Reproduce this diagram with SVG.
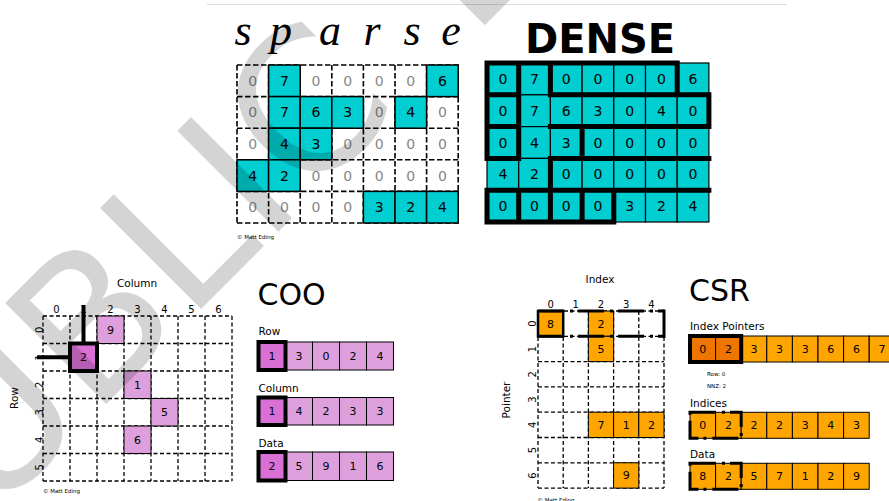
<svg xmlns="http://www.w3.org/2000/svg" width="889" height="501" viewBox="0 0 889 501">
<defs>
<style>
text{font-family:"DejaVu Sans","Noto Sans",sans-serif;fill:#000}
.n14{font-size:14px;text-anchor:middle}
.n11{font-size:11px;text-anchor:middle}
.n10{font-size:10px;text-anchor:middle}
.g{fill:#888}
.lbl{font-size:10.5px}
.copy{font-size:5.5px}
.title{font-size:30px}
.dash1{fill:none;stroke:#000;stroke-width:1.6;stroke-dasharray:5.5 2.5}
.dash2{fill:none;stroke:#000;stroke-width:1.3;stroke-dasharray:4 2.5}
.cy{fill:#00CED1;stroke:#000;stroke-width:1.5}
.cyd{fill:#00CED1;stroke:#000;stroke-width:1.2}
.pl{fill:#DDA0DD;stroke:#000;stroke-width:1}
.or{fill:#DA70D6;stroke:#000;stroke-width:4}
.og{fill:#FFA500;stroke:#000;stroke-width:1}
.thick{fill:none;stroke:#000;stroke-width:4}
.dd{fill:none;stroke:#000;stroke-width:3;stroke-dasharray:26 6 3 5}
</style>
</defs>
<rect width="889" height="501" fill="#fff"/>
<path d="M207 4.5H787" stroke="#ddd" stroke-width="1"/>

<g id="sparse">
<text x="243 281 330 372 412 451" y="45" style="font-family:'Liberation Serif',serif;font-style:italic;font-size:44px;text-anchor:middle">sparse</text>
<path class="dash1" d="M237 65H458.2M237 96.6H458.2M237 128.2H458.2M237 159.8H458.2M237 191.4H458.2M237 223H458.2M237 65V223M268.6 65V223M300.2 65V223M331.8 65V223M363.4 65V223M395 65V223M426.6 65V223M458.2 65V223"/>
<rect class="cy" x="268.6" y="65" width="31.6" height="31.6"/>
<rect class="cy" x="426.6" y="65" width="31.6" height="31.6"/>
<rect class="cy" x="268.6" y="96.6" width="31.6" height="31.6"/>
<rect class="cy" x="300.2" y="96.6" width="31.6" height="31.6"/>
<rect class="cy" x="331.8" y="96.6" width="31.6" height="31.6"/>
<rect class="cy" x="395" y="96.6" width="31.6" height="31.6"/>
<rect class="cy" x="268.6" y="128.2" width="31.6" height="31.6"/>
<rect class="cy" x="300.2" y="128.2" width="31.6" height="31.6"/>
<rect class="cy" x="237" y="159.8" width="31.6" height="31.6"/>
<rect class="cy" x="268.6" y="159.8" width="31.6" height="31.6"/>
<rect class="cy" x="363.4" y="191.4" width="31.6" height="31.6"/>
<rect class="cy" x="395" y="191.4" width="31.6" height="31.6"/>
<rect class="cy" x="426.6" y="191.4" width="31.6" height="31.6"/>
<g class="n14">
<text class="n14 g" x="252.8" y="85.8">0</text><text class="n14" x="284.4" y="85.8">7</text><text class="n14 g" x="316" y="85.8">0</text><text class="n14 g" x="347.6" y="85.8">0</text><text class="n14 g" x="379.2" y="85.8">0</text><text class="n14 g" x="410.8" y="85.8">0</text><text class="n14" x="442.4" y="85.8">6</text>
<text class="n14 g" x="252.8" y="117.4">0</text><text class="n14" x="284.4" y="117.4">7</text><text class="n14" x="316" y="117.4">6</text><text class="n14" x="347.6" y="117.4">3</text><text class="n14 g" x="379.2" y="117.4">0</text><text class="n14" x="410.8" y="117.4">4</text><text class="n14 g" x="442.4" y="117.4">0</text>
<text class="n14 g" x="252.8" y="149">0</text><text class="n14" x="284.4" y="149">4</text><text class="n14" x="316" y="149">3</text><text class="n14 g" x="347.6" y="149">0</text><text class="n14 g" x="379.2" y="149">0</text><text class="n14 g" x="410.8" y="149">0</text><text class="n14 g" x="442.4" y="149">0</text>
<text class="n14" x="252.8" y="180.6">4</text><text class="n14" x="284.4" y="180.6">2</text><text class="n14 g" x="316" y="180.6">0</text><text class="n14 g" x="347.6" y="180.6">0</text><text class="n14 g" x="379.2" y="180.6">0</text><text class="n14 g" x="410.8" y="180.6">0</text><text class="n14 g" x="442.4" y="180.6">0</text>
<text class="n14 g" x="252.8" y="212.2">0</text><text class="n14 g" x="284.4" y="212.2">0</text><text class="n14 g" x="316" y="212.2">0</text><text class="n14 g" x="347.6" y="212.2">0</text><text class="n14" x="379.2" y="212.2">3</text><text class="n14" x="410.8" y="212.2">2</text><text class="n14" x="442.4" y="212.2">4</text>
</g>
<text class="copy" x="237" y="239">© Matt Eding</text>
</g>

<g id="dense">
<text x="600" y="53" style="font-weight:bold;font-size:40px;text-anchor:middle">DENSE</text>
<g>
<rect class="cyd" x="487" y="63" width="31.7" height="31.8"/><rect class="cyd" x="518.7" y="63" width="31.7" height="31.8"/><rect class="cyd" x="550.4" y="63" width="31.7" height="31.8"/><rect class="cyd" x="582.1" y="63" width="31.7" height="31.8"/><rect class="cyd" x="613.8" y="63" width="31.7" height="31.8"/><rect class="cyd" x="645.5" y="63" width="31.7" height="31.8"/><rect class="cyd" x="677.2" y="63" width="31.7" height="31.8"/>
<rect class="cyd" x="487" y="94.8" width="31.7" height="31.8"/><rect class="cyd" x="518.7" y="94.8" width="31.7" height="31.8"/><rect class="cyd" x="550.4" y="94.8" width="31.7" height="31.8"/><rect class="cyd" x="582.1" y="94.8" width="31.7" height="31.8"/><rect class="cyd" x="613.8" y="94.8" width="31.7" height="31.8"/><rect class="cyd" x="645.5" y="94.8" width="31.7" height="31.8"/><rect class="cyd" x="677.2" y="94.8" width="31.7" height="31.8"/>
<rect class="cyd" x="487" y="126.6" width="31.7" height="31.8"/><rect class="cyd" x="518.7" y="126.6" width="31.7" height="31.8"/><rect class="cyd" x="550.4" y="126.6" width="31.7" height="31.8"/><rect class="cyd" x="582.1" y="126.6" width="31.7" height="31.8"/><rect class="cyd" x="613.8" y="126.6" width="31.7" height="31.8"/><rect class="cyd" x="645.5" y="126.6" width="31.7" height="31.8"/><rect class="cyd" x="677.2" y="126.6" width="31.7" height="31.8"/>
<rect class="cyd" x="487" y="158.4" width="31.7" height="31.8"/><rect class="cyd" x="518.7" y="158.4" width="31.7" height="31.8"/><rect class="cyd" x="550.4" y="158.4" width="31.7" height="31.8"/><rect class="cyd" x="582.1" y="158.4" width="31.7" height="31.8"/><rect class="cyd" x="613.8" y="158.4" width="31.7" height="31.8"/><rect class="cyd" x="645.5" y="158.4" width="31.7" height="31.8"/><rect class="cyd" x="677.2" y="158.4" width="31.7" height="31.8"/>
<rect class="cyd" x="487" y="190.2" width="31.7" height="31.8"/><rect class="cyd" x="518.7" y="190.2" width="31.7" height="31.8"/><rect class="cyd" x="550.4" y="190.2" width="31.7" height="31.8"/><rect class="cyd" x="582.1" y="190.2" width="31.7" height="31.8"/><rect class="cyd" x="613.8" y="190.2" width="31.7" height="31.8"/><rect class="cyd" x="645.5" y="190.2" width="31.7" height="31.8"/><rect class="cyd" x="677.2" y="190.2" width="31.7" height="31.8"/>
</g>
<path fill="none" stroke="#000" stroke-width="5" stroke-linecap="square" d="M487 63V158.4M487 190.2V222M518.7 63V158.4M518.7 190.2V222M550.4 63V94.8M550.4 158.4V222M582.1 126.6V158.4M582.1 190.2V222M613.8 190.2V222M677.2 63V94.8M708.9 94.8V126.6M487 63H677.2M487 94.8H518.7M550.4 94.8H708.9M487 126.6H518.7M550.4 126.6H708.9M487 158.4H518.7M550.4 158.4H708.9M487 190.2H708.9M487 222H613.8"/>
<g>
<text class="n14" x="502.85" y="83.9">0</text><text class="n14" x="534.55" y="83.9">7</text><text class="n14" x="566.25" y="83.9">0</text><text class="n14" x="597.95" y="83.9">0</text><text class="n14" x="629.65" y="83.9">0</text><text class="n14" x="661.35" y="83.9">0</text><text class="n14" x="693.05" y="83.9">6</text>
<text class="n14" x="502.85" y="115.7">0</text><text class="n14" x="534.55" y="115.7">7</text><text class="n14" x="566.25" y="115.7">6</text><text class="n14" x="597.95" y="115.7">3</text><text class="n14" x="629.65" y="115.7">0</text><text class="n14" x="661.35" y="115.7">4</text><text class="n14" x="693.05" y="115.7">0</text>
<text class="n14" x="502.85" y="147.5">0</text><text class="n14" x="534.55" y="147.5">4</text><text class="n14" x="566.25" y="147.5">3</text><text class="n14" x="597.95" y="147.5">0</text><text class="n14" x="629.65" y="147.5">0</text><text class="n14" x="661.35" y="147.5">0</text><text class="n14" x="693.05" y="147.5">0</text>
<text class="n14" x="502.85" y="179.3">4</text><text class="n14" x="534.55" y="179.3">2</text><text class="n14" x="566.25" y="179.3">0</text><text class="n14" x="597.95" y="179.3">0</text><text class="n14" x="629.65" y="179.3">0</text><text class="n14" x="661.35" y="179.3">0</text><text class="n14" x="693.05" y="179.3">0</text>
<text class="n14" x="502.85" y="211.1">0</text><text class="n14" x="534.55" y="211.1">0</text><text class="n14" x="566.25" y="211.1">0</text><text class="n14" x="597.95" y="211.1">0</text><text class="n14" x="629.65" y="211.1">3</text><text class="n14" x="661.35" y="211.1">2</text><text class="n14" x="693.05" y="211.1">4</text>
</g>
</g>

<g id="coo-grid">
<text class="lbl" x="137" y="287" text-anchor="middle">Column</text>
<text class="lbl" transform="translate(18,398) rotate(-90)" text-anchor="middle">Row</text>
<text class="n10" x="56.5" y="313">0</text><text class="n10" x="83.5" y="313">1</text><text class="n10" x="110.5" y="313">2</text><text class="n10" x="137.5" y="313">3</text><text class="n10" x="164.5" y="313">4</text><text class="n10" x="191.5" y="313">5</text><text class="n10" x="218.5" y="313">6</text>
<text class="n10" transform="translate(42.5,329.75) rotate(-90)">0</text>
<text class="n10" transform="translate(42.5,357.25) rotate(-90)">1</text>
<text class="n10" transform="translate(42.5,384.75) rotate(-90)">2</text>
<text class="n10" transform="translate(42.5,412.25) rotate(-90)">3</text>
<text class="n10" transform="translate(42.5,439.75) rotate(-90)">4</text>
<text class="n10" transform="translate(42.5,467.25) rotate(-90)">5</text>
<path class="dash2" d="M43 316H232M43 343.5H232M43 371H232M43 398.5H232M43 426H232M43 453.5H232M43 481H232M43 316V481M70 316V481M97 316V481M124 316V481M151 316V481M178 316V481M205 316V481M232 316V481"/>
<rect class="pl" x="97" y="316" width="27" height="27.5"/>
<rect class="pl" x="124" y="371" width="27" height="27.5"/>
<rect class="pl" x="151" y="398.5" width="27" height="27.5"/>
<rect class="pl" x="124" y="426" width="27" height="27.5"/>
<path class="thick" d="M83.5 305V343.5M37 357.25H70"/>
<rect class="or" x="70" y="343.5" width="27" height="27.5"/>
<text class="n11" x="110.5" y="333.75">9</text>
<text class="n11" x="83.5" y="361.25">2</text>
<text class="n11" x="137.5" y="388.75">1</text>
<text class="n11" x="164.5" y="416.25">5</text>
<text class="n11" x="137.5" y="443.75">6</text>
<text class="copy" x="43" y="492.5">© Matt Eding</text>
</g>

<g id="coo-arrays">
<text class="title" x="257.5" y="305">COO</text>
<text class="lbl" x="258.5" y="335">Row</text>
<rect class="pl" x="285.5" y="342" width="27" height="28"/><rect class="pl" x="312.5" y="342" width="27" height="28"/><rect class="pl" x="339.5" y="342" width="27" height="28"/><rect class="pl" x="366.5" y="342" width="27" height="28"/>
<rect class="or" x="258.5" y="342" width="27" height="28"/>
<text class="n11" x="272" y="360">1</text><text class="n11" x="299" y="360">3</text><text class="n11" x="326" y="360">0</text><text class="n11" x="353" y="360">2</text><text class="n11" x="380" y="360">4</text>
<text class="lbl" x="258.5" y="392">Column</text>
<rect class="pl" x="285.5" y="397.5" width="27" height="27.5"/><rect class="pl" x="312.5" y="397.5" width="27" height="27.5"/><rect class="pl" x="339.5" y="397.5" width="27" height="27.5"/><rect class="pl" x="366.5" y="397.5" width="27" height="27.5"/>
<rect class="or" x="258.5" y="397.5" width="27" height="27.5"/>
<text class="n11" x="272" y="415.25">1</text><text class="n11" x="299" y="415.25">4</text><text class="n11" x="326" y="415.25">2</text><text class="n11" x="353" y="415.25">3</text><text class="n11" x="380" y="415.25">3</text>
<text class="lbl" x="258.5" y="447">Data</text>
<rect class="pl" x="285.5" y="452" width="27" height="28.5"/><rect class="pl" x="312.5" y="452" width="27" height="28.5"/><rect class="pl" x="339.5" y="452" width="27" height="28.5"/><rect class="pl" x="366.5" y="452" width="27" height="28.5"/>
<rect class="or" x="258.5" y="452" width="27" height="28.5"/>
<text class="n11" x="272" y="470.25">2</text><text class="n11" x="299" y="470.25">5</text><text class="n11" x="326" y="470.25">9</text><text class="n11" x="353" y="470.25">1</text><text class="n11" x="380" y="470.25">6</text>
</g>

<g id="csr-grid">
<text class="lbl" x="600" y="283" text-anchor="middle">Index</text>
<text class="lbl" transform="translate(510,400) rotate(-90)" text-anchor="middle">Pointer</text>
<text class="n10" x="550.6" y="308">0</text><text class="n10" x="575.8" y="308">1</text><text class="n10" x="601" y="308">2</text><text class="n10" x="626.2" y="308">3</text><text class="n10" x="651.4" y="308">4</text>
<text class="n10" transform="translate(535.5,323.65) rotate(-90)">0</text>
<text class="n10" transform="translate(535.5,348.95) rotate(-90)">1</text>
<text class="n10" transform="translate(535.5,374.25) rotate(-90)">2</text>
<text class="n10" transform="translate(535.5,399.55) rotate(-90)">3</text>
<text class="n10" transform="translate(535.5,424.85) rotate(-90)">4</text>
<text class="n10" transform="translate(535.5,450.15) rotate(-90)">5</text>
<text class="n10" transform="translate(535.5,475.45) rotate(-90)">6</text>
<path class="dash2" d="M538 311H664M538 336.3H664M538 361.6H664M538 386.9H664M538 412.2H664M538 437.5H664M538 462.8H664M538 488.1H664M538 311V488.1M563.2 311V488.1M588.4 311V488.1M613.6 311V488.1M638.8 311V488.1M664 311V488.1"/>
<rect class="og" x="538" y="311" width="25.2" height="25.3" style="stroke-width:2.5"/>
<rect class="og" x="588.4" y="311" width="25.2" height="25.3"/>
<rect class="og" x="588.4" y="336.3" width="25.2" height="25.3"/>
<rect class="og" x="588.4" y="412.2" width="25.2" height="25.3"/>
<rect class="og" x="613.6" y="412.2" width="25.2" height="25.3"/>
<rect class="og" x="638.8" y="412.2" width="25.2" height="25.3"/>
<rect class="og" x="613.6" y="462.8" width="25.2" height="25.3"/>
<path class="dd" d="M538 311H664M538 336.3H664"/>
<path d="M664 309.5V338" stroke="#000" stroke-width="3"/>
<text class="n11" x="550.6" y="327.65">8</text>
<text class="n11" x="601" y="327.65">2</text>
<text class="n11" x="601" y="352.95">5</text>
<text class="n11" x="601" y="428.85">7</text>
<text class="n11" x="626.2" y="428.85">1</text>
<text class="n11" x="651.4" y="428.85">2</text>
<text class="n11" x="626.2" y="479.45">9</text>
<text class="copy" x="537.5" y="501.5">© Matt Eding</text>
</g>

<g id="csr-arrays">
<text class="title" x="689" y="301">CSR</text>
<text class="lbl" x="690" y="330">Index Pointers</text>
<rect class="og" x="690" y="336" width="25.6" height="26" style="fill:#EE7600"/><rect class="og" x="715.6" y="336" width="25.6" height="26" style="fill:#EE7600"/><rect class="og" x="741.2" y="336" width="25.6" height="26"/><rect class="og" x="766.8" y="336" width="25.6" height="26"/><rect class="og" x="792.4" y="336" width="25.6" height="26"/><rect class="og" x="818" y="336" width="25.6" height="26"/><rect class="og" x="843.6" y="336" width="25.6" height="26"/><rect class="og" x="869.2" y="336" width="25.6" height="26"/>
<rect class="thick" x="690" y="336" width="51.2" height="26"/>
<text class="n11" x="702.8" y="353">0</text><text class="n11" x="728.4" y="353">2</text><text class="n11" x="754" y="353">3</text><text class="n11" x="779.6" y="353">3</text><text class="n11" x="805.2" y="353">3</text><text class="n11" x="830.8" y="353">6</text><text class="n11" x="856.4" y="353">6</text><text class="n11" x="882" y="353">7</text>
<text class="copy" x="707" y="376">Row: 0</text>
<text class="copy" x="707" y="388">NNZ: 2</text>
<text class="lbl" x="690" y="406.5">Indices</text>
<rect class="og" x="690" y="412.3" width="25.6" height="26"/><rect class="og" x="715.6" y="412.3" width="25.6" height="26"/><rect class="og" x="741.2" y="412.3" width="25.6" height="26"/><rect class="og" x="766.8" y="412.3" width="25.6" height="26"/><rect class="og" x="792.4" y="412.3" width="25.6" height="26"/><rect class="og" x="818" y="412.3" width="25.6" height="26"/><rect class="og" x="843.6" y="412.3" width="25.6" height="26"/>
<rect class="dd" x="690" y="412.3" width="51.2" height="26"/>
<text class="n11" x="702.8" y="429.3">0</text><text class="n11" x="728.4" y="429.3">2</text><text class="n11" x="754" y="429.3">2</text><text class="n11" x="779.6" y="429.3">2</text><text class="n11" x="805.2" y="429.3">3</text><text class="n11" x="830.8" y="429.3">4</text><text class="n11" x="856.4" y="429.3">3</text>
<text class="lbl" x="690" y="457.5">Data</text>
<rect class="og" x="690" y="463.3" width="25.6" height="26"/><rect class="og" x="715.6" y="463.3" width="25.6" height="26"/><rect class="og" x="741.2" y="463.3" width="25.6" height="26"/><rect class="og" x="766.8" y="463.3" width="25.6" height="26"/><rect class="og" x="792.4" y="463.3" width="25.6" height="26"/><rect class="og" x="818" y="463.3" width="25.6" height="26"/><rect class="og" x="843.6" y="463.3" width="25.6" height="26"/>
<rect class="dd" x="690" y="463.3" width="51.2" height="26"/>
<text class="n11" x="702.8" y="480.3">8</text><text class="n11" x="728.4" y="480.3">2</text><text class="n11" x="754" y="480.3">5</text><text class="n11" x="779.6" y="480.3">7</text><text class="n11" x="805.2" y="480.3">1</text><text class="n11" x="830.8" y="480.3">2</text><text class="n11" x="856.4" y="480.3">9</text>
</g>

<g id="watermark">
<text transform="translate(-92.5,602.5) rotate(-45)" style="font-size:196px;fill:#000;fill-opacity:0.17">PUBLIC<tspan dx="35"> DOMAIN</tspan></text>
</g>
</svg>
